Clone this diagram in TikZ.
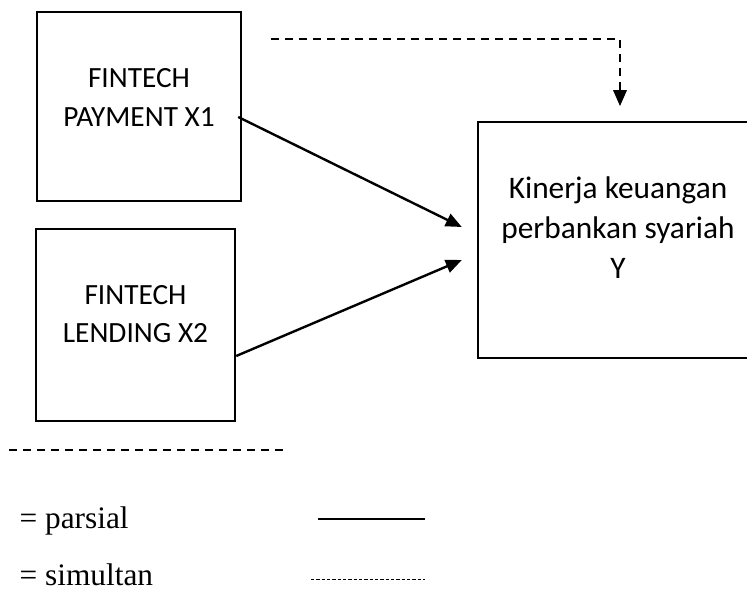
\documentclass[tikz,border=0pt]{standalone}
\usepackage{fontspec}
\setmainfont{Liberation Serif}
\newfontfamily\boxfont{Carlito}
\usetikzlibrary{arrows.meta,calc}

\tikzset{every picture/.style={line width=1.8pt}}
\tikzset{
  varbox/.style={draw, line width=1.8pt, inner sep=0pt},
  boxtext/.style={align=center, font=\boxfont\fontsize{22}{29}\selectfont},
  ytext/.style={align=center, font=\boxfont\fontsize{23.5}{30}\selectfont},
  parline/.style={line width=1.8pt, -{Triangle[length=12pt,width=10pt]}},
  simline/.style={line width=1.8pt, dash pattern=on 6pt off 4.5pt, -{Triangle[length=12pt,width=10pt]}},
  legtext/.style={anchor=west, font=\fontsize{23.5}{28}\selectfont}
}

\begin{document}
\begin{tikzpicture}[x=0.75pt,y=0.75pt,yscale=-1,xscale=1]
	\useasboundingbox (0,0) rectangle (747,593);

	%Boxes
	\node[varbox, minimum width=153pt, minimum height=141.75pt] (x1) at (139,106.5) {};
	\node[varbox, minimum width=149.25pt, minimum height=144pt] (x2) at (135.5,325) {};
	\node[varbox, minimum width=204pt, minimum height=177pt] (y) at (614,240) {};

	% Text Node
	\node[boxtext] (x1text) at ($(x1.center)+(0,-9)$) {FINTECH\\PAYMENT X1};
	\node[boxtext] (x2text) at ($(x2.center)+(0,-11)$) {FINTECH\\LENDING X2};
	\node[ytext] (ytext) at ($(y.center)+(4,-12)$) {Kinerja keuangan\\perbankan syariah\\Y};

	%Partial arrows
	\draw[parline] ($(x1.east)+(-4,10.5)$) -- ($(y.west)+(-15,-13)$);
	\draw[parline] ($(x2.east)+(0,31)$) -- ($(y.west)+(-15,20)$);

	%Simultaneous arrow
	\coordinate (simstart) at ($(x1.north east)+(29,28)$);
	\draw[simline, shorten >=11pt] (simstart) -| ($(y.north)+(6,0)$);

	%Separator
	\coordinate (sepl) at (9,450);
	\coordinate (sepr) at (283,450);
	\draw[line width=1.3pt, dash pattern=on 6pt off 4.5pt] (sepl) -- (sepr);

	%Legend
	\node[legtext] (lpar) at (14,521) {= parsial};
	\node[legtext] (lsim) at (14,575) {= simultan};
	\coordinate (parl) at (318,519);
	\coordinate (parr) at (425,519);
	\coordinate (siml) at (311,579);
	\coordinate (simr) at (425,579);
	\draw[line width=0.8pt] (parl) -- (parr);
	\draw[line width=0.6pt, dash pattern=on 2.5pt off 1.5pt] (siml) -- (simr);

\end{tikzpicture}
\end{document}
